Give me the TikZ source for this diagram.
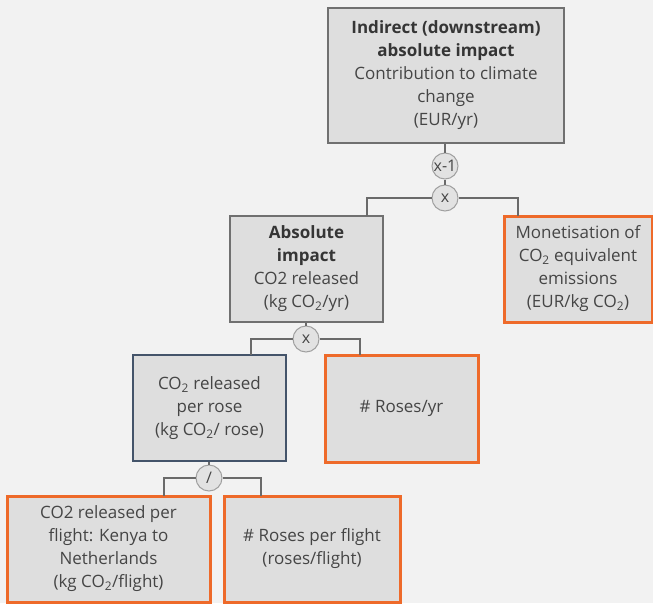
\documentclass[tikz,border=0pt]{standalone}
\usepackage{fontspec}
\setmainfont{Open Sans}
\definecolor{pagebg}{HTML}{F2F2F2}
\definecolor{boxfill}{HTML}{DEDEDE}
\definecolor{boxline}{HTML}{707070}
\definecolor{slateline}{HTML}{44546A}
\definecolor{accent}{HTML}{EE6A2A}
\definecolor{txt}{HTML}{454545}
\definecolor{txtbold}{HTML}{353535}
\definecolor{opfill}{HTML}{E2E2E2}
\definecolor{opline}{HTML}{A0A0A0}
\definecolor{wire}{HTML}{6A6A6A}
\tikzset{
  box/.style={draw=boxline, line width=1.4pt, fill=boxfill, align=center,
    text=txt, inner sep=2pt, font=\fontsize{17}{23}\selectfont},
  inputbox/.style={box, draw=accent, line width=3pt},
  derivedbox/.style={box, draw=slateline, line width=1.1pt},
  opnode/.style={circle, draw=opline, line width=1pt, fill=opfill,
    minimum size=26pt, inner sep=0pt, text=txt, font=\fontsize{16}{18}\selectfont},
  wireline/.style={draw=wire, line width=1.3pt},
}
\newcommand{\cotwo}{CO\textsubscript{2}}
\newcommand{\hd}[1]{{\bfseries\color{txtbold}#1}}
\begin{document}
\begin{tikzpicture}[x=1pt, y=-1pt]
  \useasboundingbox (0,0) rectangle (653,603);
  \fill[pagebg] (0,0) rectangle (653,603);

  % top level result
  \node[box, minimum width=236pt, minimum height=135pt] (top) at (446,75.5)
    {\hd{Indirect (downstream)}\\ \hd{absolute impact}\\ Contribution to climate\\ change\\ (EUR/yr)};
  \node[opnode] (inv) at (445,166) {x-1};
  \node[opnode] (mul1) at (445,198) {x};

  % second level
  \node[box, minimum width=153pt, minimum height=106pt] (abs) at (306.5,269)
    {\hd{Absolute}\\ \hd{impact}\\ CO2 released\\ (kg \cotwo/yr)};
  \node[inputbox, minimum width=148pt, minimum height=106pt] (money) at (578,269)
    {Monetisation of\\ \cotwo{} equivalent\\ emissions\\ (EUR/kg \cotwo)};
  \node[opnode] (mul2) at (306,339) {x};

  % third level
  \node[derivedbox, minimum width=153pt, minimum height=106pt] (perrose) at (209.5,408)
    {\cotwo{} released\\ per rose\\ (kg \cotwo/ rose)};
  \node[inputbox, minimum width=153pt, minimum height=107pt] (roses) at (401.5,408.5)
    {\# Roses/yr};
  \node[opnode] (div) at (209,478) {/};

  % fourth level
  \node[inputbox, minimum width=203pt, minimum height=106pt] (flight) at (108.5,549)
    {CO2 released per\\ flight: Kenya to\\ Netherlands\\ (kg \cotwo/flight)};
  \node[inputbox, minimum width=176pt, minimum height=106pt] (perflight) at (312,549)
    {\# Roses per flight\\ (roses/flight)};

  % attachment points on the child boxes
  \coordinate (absIn) at (367,216);
  \coordinate (moneyIn) at (518,216);
  \coordinate (perroseIn) at (251,355);
  \coordinate (rosesIn) at (360,355);
  \coordinate (flightIn) at (164,496);
  \coordinate (perflightIn) at (261,496);

  % connectors
  \draw[wireline] (top.south -| inv) -- (inv.north);
  \draw[wireline] (inv.south) -- (mul1.north);
  \draw[wireline] (mul1.west) -| (absIn);
  \draw[wireline] (mul1.east) -| (moneyIn);
  \draw[wireline] (abs.south -| mul2) -- (mul2.north);
  \draw[wireline] (mul2.west) -| (perroseIn);
  \draw[wireline] (mul2.east) -| (rosesIn);
  \draw[wireline] (perrose.south -| div) -- (div.north);
  \draw[wireline] (div.west) -| (flightIn);
  \draw[wireline] (div.east) -| (perflightIn);
\end{tikzpicture}
\end{document}
